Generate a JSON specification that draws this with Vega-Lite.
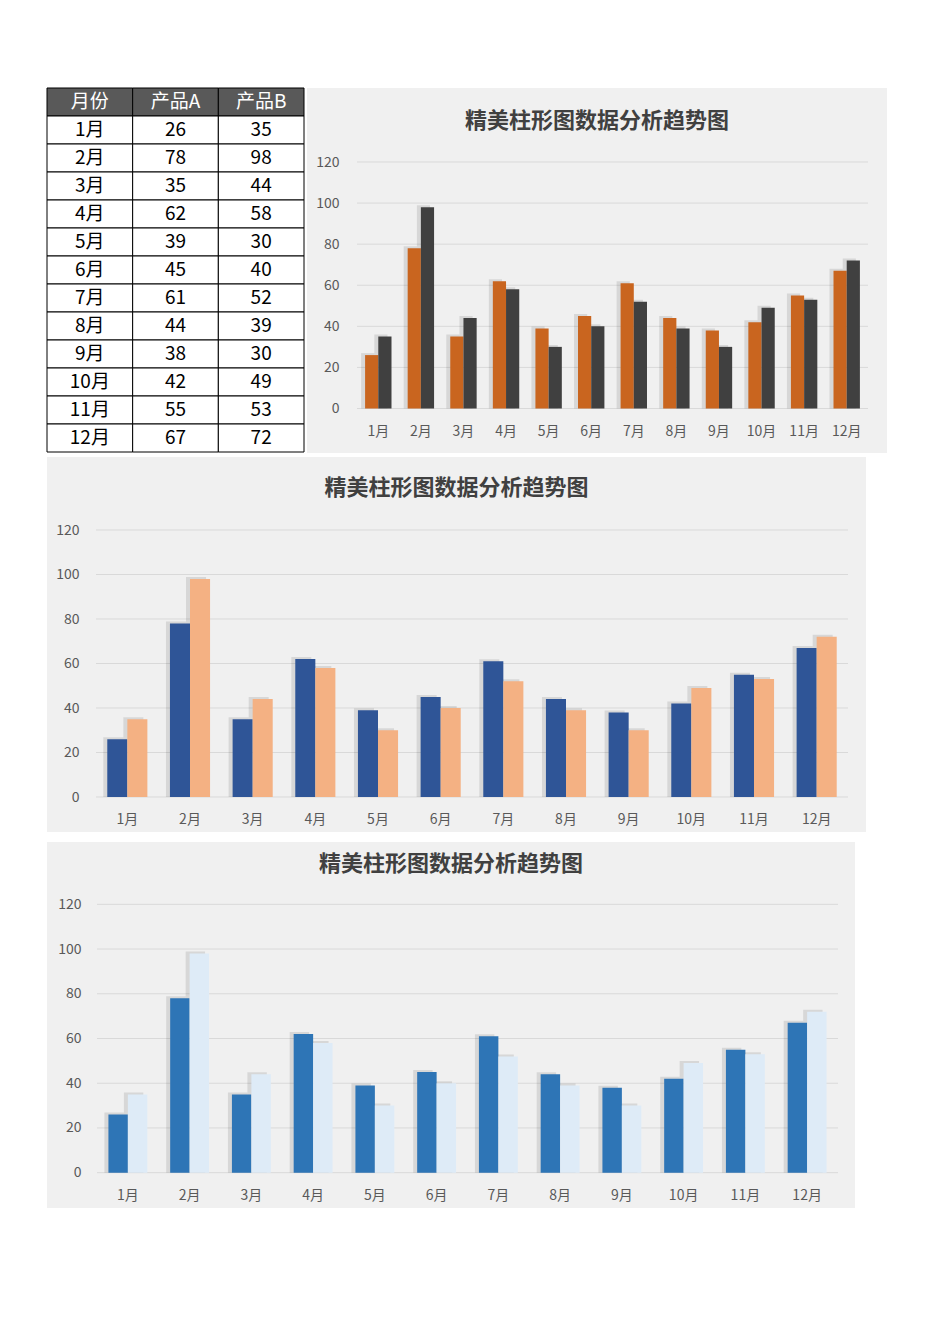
{
  "$schema": "https://vega.github.io/schema/vega-lite/v6.json",
  "background": "#ffffff",
  "padding": {"left": 46, "top": 87, "right": 0, "bottom": 0},
  "autosize": {"type": "pad"},
  "datasets": {
    "sales": [
      {"month": "1月", "产品A": 26, "产品B": 35},
      {"month": "2月", "产品A": 78, "产品B": 98},
      {"month": "3月", "产品A": 35, "产品B": 44},
      {"month": "4月", "产品A": 62, "产品B": 58},
      {"month": "5月", "产品A": 39, "产品B": 30},
      {"month": "6月", "产品A": 45, "产品B": 40},
      {"month": "7月", "产品A": 61, "产品B": 52},
      {"month": "8月", "产品A": 44, "产品B": 39},
      {"month": "9月", "产品A": 38, "产品B": 30},
      {"month": "10月", "产品A": 42, "产品B": 49},
      {"month": "11月", "产品A": 55, "产品B": 53},
      {"month": "12月", "产品A": 67, "产品B": 72}
    ],
    "grid": [{"v": 0}, {"v": 20}, {"v": 40}, {"v": 60}, {"v": 80}, {"v": 100}, {"v": 120}],
    "header": [{"col": "月份"}, {"col": "产品A"}, {"col": "产品B"}]
  },
  "config": {
    "font": "Noto Sans CJK SC",
    "view": {"stroke": null},
    "axis": {"labelFont": "Noto Sans CJK SC", "labelFontSize": 14, "labelColor": "#595959", "ticks": false, "domain": false, "grid": false}
  },
  "spacing": 10,
  "resolve": {"scale": {"color": "independent", "xOffset": "independent"}},
  "vconcat": [
    {
      "spacing": 4,
      "resolve": {"scale": {"color": "independent", "xOffset": "independent"}},
      "vconcat": [
        {
          "spacing": 2,
          "resolve": {"scale": {"color": "independent", "xOffset": "independent"}},
          "hconcat": [
            {
              "width": 257,
              "height": 364,
              "view": {"stroke": null},
              "layer": [
                {
                  "data": {"name": "header"},
                  "encoding": {
                    "x": {"field": "col", "type": "nominal", "sort": null, "scale": {"type": "band", "domain": ["月份", "产品A", "产品B"], "paddingInner": 0, "paddingOuter": 0}, "axis": null},
                    "y": {"datum": "header", "type": "nominal", "scale": {"type": "band", "domain": ["header", "1月", "2月", "3月", "4月", "5月", "6月", "7月", "8月", "9月", "10月", "11月", "12月"], "paddingInner": 0, "paddingOuter": 0}, "axis": null}
                  },
                  "layer": [
                    {"mark": {"type": "rect", "fill": "#595959", "stroke": "#000000", "strokeWidth": 1}},
                    {"mark": {"type": "text", "color": "#ffffff", "fontSize": 19}, "encoding": {"text": {"field": "col", "type": "nominal"}}}
                  ]
                },
                {
                  "data": {"name": "sales"},
                  "encoding": {
                    "x": {"datum": "月份", "type": "nominal", "scale": {"type": "band", "domain": ["月份", "产品A", "产品B"], "paddingInner": 0, "paddingOuter": 0}, "axis": null},
                    "y": {"field": "month", "type": "nominal", "sort": null, "scale": {"type": "band", "domain": ["header", "1月", "2月", "3月", "4月", "5月", "6月", "7月", "8月", "9月", "10月", "11月", "12月"], "paddingInner": 0, "paddingOuter": 0}, "axis": null}
                  },
                  "layer": [
                    {"mark": {"type": "rect", "fill": "#ffffff", "stroke": "#000000", "strokeWidth": 1}},
                    {"mark": {"type": "text", "color": "#000000", "fontSize": 19}, "encoding": {"text": {"field": "month", "type": "nominal"}}}
                  ]
                },
                {
                  "data": {"name": "sales"},
                  "transform": [{"fold": ["产品A", "产品B"], "as": ["series", "value"]}],
                  "encoding": {
                    "x": {"field": "series", "type": "nominal", "sort": null, "scale": {"type": "band", "domain": ["月份", "产品A", "产品B"], "paddingInner": 0, "paddingOuter": 0}, "axis": null},
                    "y": {"field": "month", "type": "nominal", "sort": null, "scale": {"type": "band", "domain": ["header", "1月", "2月", "3月", "4月", "5月", "6月", "7月", "8月", "9月", "10月", "11月", "12月"], "paddingInner": 0, "paddingOuter": 0}, "axis": null}
                  },
                  "layer": [
                    {"mark": {"type": "rect", "fill": "#ffffff", "stroke": "#000000", "strokeWidth": 1}},
                    {"mark": {"type": "text", "color": "#000000", "fontSize": 19}, "encoding": {"text": {"field": "value", "type": "quantitative"}}}
                  ]
                }
              ]
            },
            {
              "width": 580,
              "height": 365,
              "view": {"fill": "#F0F0F0", "stroke": null},
              "title": {"text": "精美柱形图数据分析趋势图", "fontSize": 22, "fontWeight": "bold", "color": "#404040", "anchor": "middle", "frame": "group", "baseline": "middle", "offset": -55},
              "resolve": {"scale": {"x": "independent", "xOffset": "independent"}, "axis": {"x": "independent"}},
              "layer": [
                {
                  "data": {"name": "grid"},
                  "mark": {"type": "rule", "color": "#D9D9D9", "strokeWidth": 1},
                  "encoding": {
                    "y": {"field": "v", "type": "quantitative", "scale": {"domain": [0, 120], "range": [320.5, 74], "nice": false}, "axis": {"values": [0, 20, 40, 60, 80, 100, 120], "title": null, "offset": -36, "labelPadding": 4}},
                    "x": {"datum": 0, "type": "quantitative", "scale": {"domain": [0, 1], "range": [50, 561]}, "axis": null},
                    "x2": {"datum": 1}
                  }
                },
                {
                  "data": {"name": "sales"},
                  "transform": [{"fold": ["产品A", "产品B"], "as": ["series", "value"]}],
                  "mark": {"type": "bar", "color": "#000000", "opacity": 0.1, "yOffset": -2},
                  "encoding": {
                    "x": {"field": "month", "type": "nominal", "sort": null, "scale": {"domain": ["1月", "2月", "3月", "4月", "5月", "6月", "7月", "8月", "9月", "10月", "11月", "12月"], "range": [50, 561], "paddingInner": 0.38, "paddingOuter": 0.19}, "axis": null},
                    "xOffset": {"field": "series", "type": "nominal", "scale": {"range": [-4, 22.4], "paddingInner": 0, "paddingOuter": 0}},
                    "y": {"field": "value", "type": "quantitative", "stack": null, "scale": {"domain": [0, 120], "range": [320.5, 74], "nice": false}, "axis": {"values": [0, 20, 40, 60, 80, 100, 120], "title": null, "offset": -36, "labelPadding": 4}}
                  }
                },
                {
                  "data": {"name": "sales"},
                  "transform": [{"fold": ["产品A", "产品B"], "as": ["series", "value"]}],
                  "mark": {"type": "bar"},
                  "encoding": {
                    "x": {"field": "month", "type": "nominal", "sort": null, "scale": {"domain": ["1月", "2月", "3月", "4月", "5月", "6月", "7月", "8月", "9月", "10月", "11月", "12月"], "range": [50, 561], "paddingInner": 0.38, "paddingOuter": 0.19}, "axis": {"title": null, "offset": -31, "labelPadding": 2, "labelAngle": 0}},
                    "xOffset": {"field": "series", "type": "nominal", "scale": {"paddingInner": 0, "paddingOuter": 0}},
                    "y": {"field": "value", "type": "quantitative", "stack": null, "scale": {"domain": [0, 120], "range": [320.5, 74], "nice": false}, "axis": {"values": [0, 20, 40, 60, 80, 100, 120], "title": null, "offset": -36, "labelPadding": 4}},
                    "color": {"field": "series", "type": "nominal", "scale": {"domain": ["产品A", "产品B"], "range": ["#C9651F", "#404040"]}, "legend": null}
                  }
                }
              ]
            }
          ]
        },
        {
          "width": 819,
          "height": 375,
          "view": {"fill": "#F0F0F0", "stroke": null},
          "title": {"text": "精美柱形图数据分析趋势图", "fontSize": 22, "fontWeight": "bold", "color": "#404040", "anchor": "middle", "frame": "group", "baseline": "middle", "offset": -53},
          "resolve": {"scale": {"x": "independent", "xOffset": "independent"}, "axis": {"x": "independent"}},
          "layer": [
            {
              "data": {"name": "grid"},
              "mark": {"type": "rule", "color": "#D9D9D9", "strokeWidth": 1},
              "encoding": {
                "y": {"field": "v", "type": "quantitative", "scale": {"domain": [0, 120], "range": [340, 73], "nice": false}, "axis": {"values": [0, 20, 40, 60, 80, 100, 120], "title": null, "offset": -36, "labelPadding": 4}},
                "x": {"datum": 0, "type": "quantitative", "scale": {"domain": [0, 1], "range": [49, 801]}, "axis": null},
                "x2": {"datum": 1}
              }
            },
            {
              "data": {"name": "sales"},
              "transform": [{"fold": ["产品A", "产品B"], "as": ["series", "value"]}],
              "mark": {"type": "bar", "color": "#000000", "opacity": 0.1, "yOffset": -2},
              "encoding": {
                "x": {"field": "month", "type": "nominal", "sort": null, "scale": {"domain": ["1月", "2月", "3月", "4月", "5月", "6月", "7月", "8月", "9月", "10月", "11月", "12月"], "range": [49, 801], "paddingInner": 0.36, "paddingOuter": 0.18}, "axis": null},
                "xOffset": {"field": "series", "type": "nominal", "scale": {"range": [-4, 36.1], "paddingInner": 0, "paddingOuter": 0}},
                "y": {"field": "value", "type": "quantitative", "stack": null, "scale": {"domain": [0, 120], "range": [340, 73], "nice": false}, "axis": {"values": [0, 20, 40, 60, 80, 100, 120], "title": null, "offset": -36, "labelPadding": 4}}
              }
            },
            {
              "data": {"name": "sales"},
              "transform": [{"fold": ["产品A", "产品B"], "as": ["series", "value"]}],
              "mark": {"type": "bar"},
              "encoding": {
                "x": {"field": "month", "type": "nominal", "sort": null, "scale": {"domain": ["1月", "2月", "3月", "4月", "5月", "6月", "7月", "8月", "9月", "10月", "11月", "12月"], "range": [49, 801], "paddingInner": 0.36, "paddingOuter": 0.18}, "axis": {"title": null, "offset": -22, "labelPadding": 2, "labelAngle": 0}},
                "xOffset": {"field": "series", "type": "nominal", "scale": {"paddingInner": 0, "paddingOuter": 0}},
                "y": {"field": "value", "type": "quantitative", "stack": null, "scale": {"domain": [0, 120], "range": [340, 73], "nice": false}, "axis": {"values": [0, 20, 40, 60, 80, 100, 120], "title": null, "offset": -36, "labelPadding": 4}},
                "color": {"field": "series", "type": "nominal", "scale": {"domain": ["产品A", "产品B"], "range": ["#2F5597", "#F4B183"]}, "legend": null}
              }
            }
          ]
        }
      ]
    },
    {
      "width": 808,
      "height": 366,
      "view": {"fill": "#F0F0F0", "stroke": null},
      "title": {"text": "精美柱形图数据分析趋势图", "fontSize": 22, "fontWeight": "bold", "color": "#404040", "anchor": "middle", "frame": "group", "baseline": "middle", "offset": -44},
      "resolve": {"scale": {"x": "independent", "xOffset": "independent"}, "axis": {"x": "independent"}},
      "layer": [
        {
          "data": {"name": "grid"},
          "mark": {"type": "rule", "color": "#D9D9D9", "strokeWidth": 1},
          "encoding": {
            "y": {"field": "v", "type": "quantitative", "scale": {"domain": [0, 120], "range": [330.7, 62.3], "nice": false}, "axis": {"values": [0, 20, 40, 60, 80, 100, 120], "title": null, "offset": -38, "labelPadding": 4}},
            "x": {"datum": 0, "type": "quantitative", "scale": {"domain": [0, 1], "range": [50, 791]}, "axis": null},
            "x2": {"datum": 1}
          }
        },
        {
          "data": {"name": "sales"},
          "transform": [{"fold": ["产品A", "产品B"], "as": ["series", "value"]}],
          "mark": {"type": "bar", "color": "#000000", "opacity": 0.1, "yOffset": -2},
          "encoding": {
            "x": {"field": "month", "type": "nominal", "sort": null, "scale": {"domain": ["1月", "2月", "3月", "4月", "5月", "6月", "7月", "8月", "9月", "10月", "11月", "12月"], "range": [50, 791], "paddingInner": 0.37, "paddingOuter": 0.185}, "axis": null},
            "xOffset": {"field": "series", "type": "nominal", "scale": {"range": [-4, 34.9], "paddingInner": 0, "paddingOuter": 0}},
            "y": {"field": "value", "type": "quantitative", "stack": null, "scale": {"domain": [0, 120], "range": [330.7, 62.3], "nice": false}, "axis": {"values": [0, 20, 40, 60, 80, 100, 120], "title": null, "offset": -38, "labelPadding": 4}}
          }
        },
        {
          "data": {"name": "sales"},
          "transform": [{"fold": ["产品A", "产品B"], "as": ["series", "value"]}],
          "mark": {"type": "bar"},
          "encoding": {
            "x": {"field": "month", "type": "nominal", "sort": null, "scale": {"domain": ["1月", "2月", "3月", "4月", "5月", "6月", "7月", "8月", "9月", "10月", "11月", "12月"], "range": [50, 791], "paddingInner": 0.37, "paddingOuter": 0.185}, "axis": {"title": null, "offset": -22, "labelPadding": 2, "labelAngle": 0}},
            "xOffset": {"field": "series", "type": "nominal", "scale": {"paddingInner": 0, "paddingOuter": 0}},
            "y": {"field": "value", "type": "quantitative", "stack": null, "scale": {"domain": [0, 120], "range": [330.7, 62.3], "nice": false}, "axis": {"values": [0, 20, 40, 60, 80, 100, 120], "title": null, "offset": -38, "labelPadding": 4}},
            "color": {"field": "series", "type": "nominal", "scale": {"domain": ["产品A", "产品B"], "range": ["#2E75B6", "#DEEBF7"]}, "legend": null}
          }
        }
      ]
    }
  ]
}
